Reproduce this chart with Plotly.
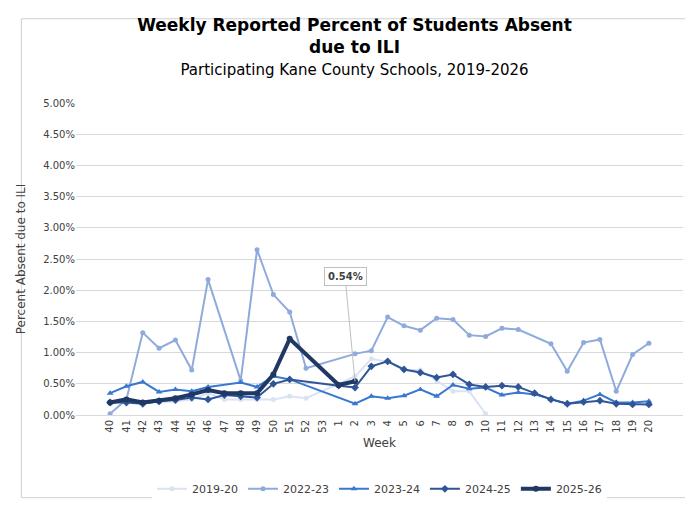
import plotly.graph_objects as go

weeks = [str(w) for w in range(40, 54)] + [str(w) for w in range(1, 21)]
N = None
s1920 = [0.20,0.20,0.20,0.20,0.22,0.25,0.35,0.25,0.25,0.25,0.25,0.30,0.27,N,N,0.62,0.90,0.85,0.72,0.72,0.55,0.38,0.38,0.02] + [N]*10
s2223 = [0.02,0.25,1.32,1.07,1.20,0.72,2.17,N,0.55,2.65,1.93,1.65,0.75,N,N,0.98,1.03,1.57,1.43,1.36,1.55,1.53,1.28,1.26,1.39,1.37,N,1.14,0.70,1.16,1.21,0.38,0.97,1.15]
s2324 = [0.35,0.46,0.53,0.37,0.41,0.38,0.45,N,0.52,0.45,0.62,0.57,N,N,N,0.18,0.30,0.27,0.31,0.41,0.30,0.48,0.42,0.44,0.32,0.36,0.33,0.25,0.18,0.23,0.33,0.20,0.20,0.22]
s2425 = [0.20,0.20,0.18,0.22,0.24,0.28,0.25,0.32,0.30,0.28,0.50,0.57,N,N,0.47,0.44,0.78,0.86,0.73,0.68,0.60,0.65,0.49,0.45,0.47,0.45,0.35,0.25,0.18,0.21,0.23,0.18,0.17,0.17]
s2526 = [0.20,0.25,0.20,0.23,0.27,0.33,0.40,0.35,0.35,0.35,0.65,1.22,N,N,0.48,0.54] + [N]*18

def pct(v):
    return [None if x is None else x / 100 for x in v]

series = [
    ("2019-20", s1920, "#dae3f3", 2, "circle", 5),
    ("2022-23", s2223, "#8faadc", 2, "circle", 5),
    ("2023-24", s2324, "#3a78d0", 2, "triangle-up", 6),
    ("2024-25", s2425, "#2f5597", 2, "diamond", 6),
    ("2025-26", s2526, "#203864", 4, "circle", 6),
]

fig = go.Figure()
for name, vals, col, w, sym, ms in series:
    fig.add_trace(go.Scatter(x=weeks, y=pct(vals), name=name, mode="lines+markers",
                             connectgaps=True, line=dict(color=col, width=w),
                             marker=dict(symbol=sym, size=ms, color=col)))

last = 15
fig.add_annotation(x=last, y=s2526[last] / 100, text="<b>%.2f%%</b>" % s2526[last],
                   ax=-10, ay=-105, showarrow=True, arrowhead=0, arrowcolor="#bfbfbf",
                   arrowwidth=1, bgcolor="white", bordercolor="#bfbfbf", borderwidth=1,
                   borderpad=3, font=dict(size=10, color="#404040"))

fig.update_layout(
    width=693, height=507, paper_bgcolor="white", plot_bgcolor="white",
    margin=dict(l=62, r=18, t=95, b=91),
    font=dict(family="DejaVu Sans", color="#404040", size=11),
    title=dict(text="<b>Weekly Reported Percent of Students Absent<br>due to ILI</b><br><span style='font-size:15px;font-weight:normal'>Participating Kane County Schools, 2019-2026</span>",
               x=0.5, xanchor="center", y=0.955, yanchor="top",
               font=dict(size=17, color="black")),
    xaxis=dict(type="category", tickangle=-90, tickfont=dict(size=10), showgrid=False,
               showline=True, linecolor="#d9d9d9", title=dict(text="Week", font=dict(size=12), standoff=6)),
    yaxis=dict(range=[0, 0.05], dtick=0.005, tickformat=".2%", gridcolor="#d9d9d9",
               tickfont=dict(size=10), zeroline=False,
               title=dict(text="Percent Absent due to ILI", font=dict(size=12))),
    legend=dict(orientation="h", x=0.5, xanchor="center", y=-0.19, yanchor="top",
                font=dict(size=11)),
    shapes=[dict(type="rect", xref="paper", yref="paper", x0=-0.09, x1=1.02, y0=-0.265, y1=1.27,
                 line=dict(color="#d0d0d0", width=1))],
)
fig.write_html("out.html")
